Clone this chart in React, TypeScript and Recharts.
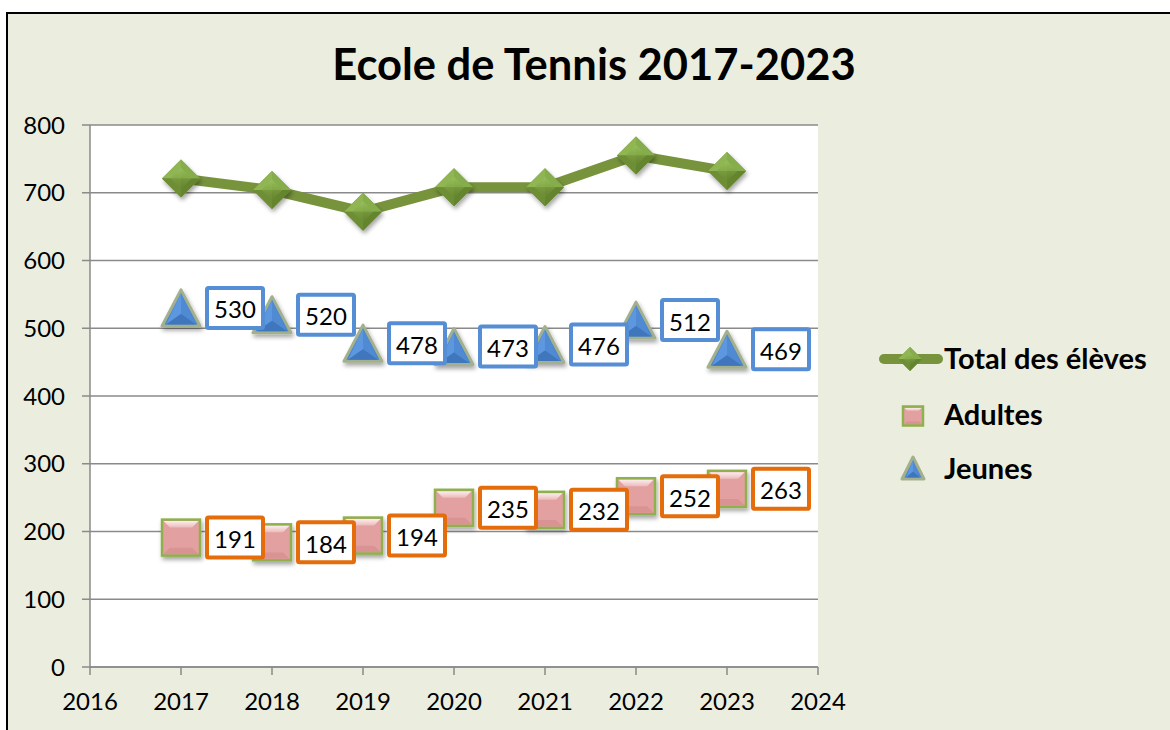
import React from 'react';
import {
  LineChart,
  Line,
  XAxis,
  YAxis,
  CartesianGrid,
  LabelList,
} from 'recharts';

const years = [2017, 2018, 2019, 2020, 2021, 2022, 2023];
const totalEleves = [721, 704, 672, 708, 708, 755, 732];
const adultes = [191, 184, 194, 235, 232, 252, 263];
const jeunes = [530, 520, 478, 473, 476, 512, 469];
const xTicks = [2016, 2017, 2018, 2019, 2020, 2021, 2022, 2023, 2024];
const yTicks = [0, 100, 200, 300, 400, 500, 600, 700, 800];

const data = years.map((year, i) => ({
  year,
  total: totalEleves[i],
  adultes: adultes[i],
  jeunes: jeunes[i],
}));

const FONT = 'Lato, "Open Sans", sans-serif';
const GREEN = '#77933C';
const BLUE_BOX = '#558ED5';
const ORANGE_BOX = '#E46C0A';

function Diamond({ cx, cy, r = 19, shadow = true }: { cx: number; cy: number; r?: number; shadow?: boolean }) {
  if (cx == null || cy == null) return null;
  return (
    <g filter={shadow ? 'url(#markerShadow)' : undefined}>
      <polygon points={`${cx},${cy - r} ${cx + r},${cy} ${cx},${cy + r} ${cx - r},${cy}`} fill="#6F8F36" />
      <polygon points={`${cx},${cy - r} ${cx},${cy} ${cx - r},${cy}`} fill="#8FB653" />
      <polygon points={`${cx},${cy - r} ${cx + r},${cy} ${cx},${cy}`} fill="#86AD4B" />
      <polygon points={`${cx - r},${cy} ${cx},${cy} ${cx},${cy + r}`} fill="#6E8E35" />
      <polygon points={`${cx + r},${cy} ${cx},${cy} ${cx},${cy + r}`} fill="#65842F" />
      <polygon
        points={`${cx},${cy - r * 0.55} ${cx + r * 0.55},${cy} ${cx},${cy + r * 0.55} ${cx - r * 0.55},${cy}`}
        fill="url(#diamondInner)"
      />
    </g>
  );
}

function Square({ cx, cy, w = 38, h = 36, shadow = true }: { cx: number; cy: number; w?: number; h?: number; shadow?: boolean }) {
  if (cx == null || cy == null) return null;
  const x0 = cx - w / 2;
  const y0 = cy - h / 2;
  const b = Math.min(w, h) * 0.22;
  return (
    <g filter={shadow ? 'url(#markerShadow)' : undefined}>
      <rect x={x0} y={y0} width={w} height={h} fill="#E3A0A0" stroke="#8FB04E" strokeWidth={2.5} />
      <polygon
        points={`${x0 + 1.5},${y0 + 1.5} ${x0 + w - 1.5},${y0 + 1.5} ${x0 + w - b},${y0 + b} ${x0 + b},${y0 + b}`}
        fill="url(#squareTop)"
      />
      <polygon
        points={`${x0 + 1.5},${y0 + h - 1.5} ${x0 + w - 1.5},${y0 + h - 1.5} ${x0 + w - b},${y0 + h - b} ${x0 + b},${y0 + h - b}`}
        fill="#D99393"
      />
    </g>
  );
}

function Triangle({ cx, cy, w = 38, h = 36, shadow = true }: { cx: number; cy: number; w?: number; h?: number; shadow?: boolean }) {
  if (cx == null || cy == null) return null;
  const top = cy - h / 2;
  const bot = cy + h / 2;
  const gx = cx;
  const gy = cy + h / 6;
  return (
    <g filter={shadow ? 'url(#markerShadow)' : undefined}>
      <polygon
        points={`${cx},${top} ${cx + w / 2},${bot} ${cx - w / 2},${bot}`}
        fill="#4A86D0"
        stroke="#A3B08E"
        strokeWidth={3}
        strokeLinejoin="round"
      />
      <polygon points={`${cx},${top + 3} ${gx},${gy} ${cx - w / 2 + 4},${bot - 1.5}`} fill="#5C97DF" />
      <polygon points={`${cx},${top + 3} ${gx},${gy} ${cx + w / 2 - 4},${bot - 1.5}`} fill="#4F8AD3" />
      <polygon points={`${cx - w / 2 + 4},${bot - 1.5} ${gx},${gy} ${cx + w / 2 - 4},${bot - 1.5}`} fill="#3F76BB" />
    </g>
  );
}

function makeBoxLabel(color: string) {
  return function BoxLabel(props: any) {
    const { x, y, value } = props;
    if (x == null || y == null) return null;
    const cx = x + 54;
    return (
      <g>
        <rect x={cx - 28} y={y - 20} width={56} height={40} fill="#fff" stroke={color} strokeWidth={4} rx={1.5} />
        <text
          x={cx}
          y={y + 1}
          textAnchor="middle"
          dominantBaseline="central"
          fontFamily={FONT}
          fontSize={24}
          fill="#000"
        >
          {value}
        </text>
      </g>
    );
  };
}

function LegendPanel() {
  const rowText: React.CSSProperties = {
    position: 'absolute',
    left: 944,
    fontFamily: FONT,
    fontWeight: 700,
    fontSize: 29,
    color: '#000',
    lineHeight: '32px',
    whiteSpace: 'nowrap',
  };
  return (
    <>
      <svg style={{ position: 'absolute', left: 0, top: 0 }} width={1170} height={730} pointerEvents="none">
        <line x1={884} y1={359} x2={938} y2={359} stroke={GREEN} strokeWidth={10} strokeLinecap="round" />
        <Diamond cx={910} cy={359} r={12} shadow={false} />
        <Square cx={913} cy={416} w={20} h={19} shadow={false} />
        <Triangle cx={913} cy={468} w={22} h={22} shadow={false} />
      </svg>
      <div style={{ ...rowText, top: 342 }}>Total des élèves</div>
      <div style={{ ...rowText, top: 398 }}>Adultes</div>
      <div style={{ ...rowText, top: 452 }}>Jeunes</div>
    </>
  );
}

export default function App() {
  return (
    <div style={{ position: 'absolute', left: 0, top: 0, width: 1170, height: 730, background: '#fff', overflow: 'hidden' }}>
      <div
        style={{
          position: 'absolute',
          left: 6,
          top: 12,
          width: 1170,
          height: 730,
          background: '#EBEEDF',
          borderLeft: '2px solid #000',
          borderTop: '2px solid #000',
        }}
      />
      <div
        style={{
          position: 'absolute',
          left: 0,
          top: 35,
          width: 1188,
          textAlign: 'center',
          fontFamily: FONT,
          fontWeight: 700,
          fontSize: 43.5,
          lineHeight: '56px',
          color: '#000',
        }}
      >
        Ecole de Tennis 2017-2023
      </div>
      <div style={{ position: 'absolute', left: 0, top: 0 }}>
        <LineChart
          width={1170}
          height={730}
          data={data}
          margin={{ top: 125, right: 352, bottom: 23, left: 10 }}
        >
          <defs>
            <filter id="markerShadow" x="-50%" y="-50%" width="200%" height="200%">
              <feDropShadow dx={1.5} dy={3} stdDeviation={2} floodColor="#000" floodOpacity={0.35} />
            </filter>
            <linearGradient id="diamondInner" x1="0" y1="0" x2="0" y2="1">
              <stop offset="0%" stopColor="#9CC25F" stopOpacity={0.8} />
              <stop offset="50%" stopColor="#7FA444" stopOpacity={0.6} />
              <stop offset="100%" stopColor="#6A8A33" stopOpacity={0.3} />
            </linearGradient>
            <linearGradient id="squareTop" x1="0" y1="0" x2="0" y2="1">
              <stop offset="0%" stopColor="#FBEDED" />
              <stop offset="100%" stopColor="#EDBBBB" />
            </linearGradient>
          </defs>
          <CartesianGrid
            vertical={false}
            stroke="#8A8A8A"
            strokeWidth={1.5}
            fill="#FFFFFF"
            fillOpacity={1}
          />
          <XAxis
            dataKey="year"
            type="number"
            domain={[2016, 2024]}
            ticks={xTicks}
            interval={0}
            height={40}
            tickSize={8}
            tickMargin={18}
            stroke="#8A8A8A"
            strokeWidth={1.5}
            tick={{ fill: '#000', fontSize: 24, fontFamily: FONT }}
          />
          <YAxis
            type="number"
            domain={[0, 800]}
            ticks={yTicks}
            interval={0}
            width={80}
            tickSize={8}
            tickMargin={17}
            stroke="#8A8A8A"
            strokeWidth={1.5}
            tick={{ fill: '#000', fontSize: 24, fontFamily: FONT }}
          />
          <Line
            dataKey="total"
            stroke={GREEN}
            strokeWidth={10}
            isAnimationActive={false}
            dot={(p: any) => <Diamond key={`d-${p.index}`} cx={p.cx} cy={p.cy} />}
            activeDot={false}
          />
          <Line
            dataKey="adultes"
            stroke="none"
            isAnimationActive={false}
            dot={(p: any) => <Square key={`s-${p.index}`} cx={p.cx} cy={p.cy} />}
            activeDot={false}
          >
            <LabelList dataKey="adultes" content={makeBoxLabel(ORANGE_BOX)} />
          </Line>
          <Line
            dataKey="jeunes"
            stroke="none"
            isAnimationActive={false}
            dot={(p: any) => <Triangle key={`t-${p.index}`} cx={p.cx} cy={p.cy} />}
            activeDot={false}
          >
            <LabelList dataKey="jeunes" content={makeBoxLabel(BLUE_BOX)} />
          </Line>
        </LineChart>
      </div>
      <LegendPanel />
    </div>
  );
}
